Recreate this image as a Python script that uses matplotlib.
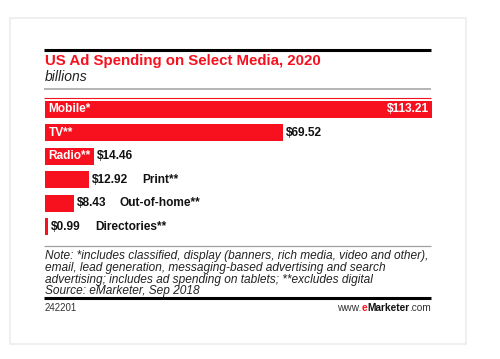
import matplotlib
matplotlib.use("Agg")
import matplotlib.pyplot as plt
from matplotlib.lines import Line2D
from matplotlib.patches import Rectangle

plt.rcParams['font.family'] = ['Liberation Sans', 'DejaVu Sans']

# data
categories = ["Mobile*", "TV**", "Radio**", "Print**", "Out-of-home**", "Directories**"]
values = [113.21, 69.52, 14.46, 12.92, 8.43, 0.99]
title = "US Ad Spending on Select Media, 2020"
subtitle = "billions"
note = ("Note: *includes classified, display (banners, rich media, video and other),\n"
        "email, lead generation, messaging-based advertising and search\n"
        "advertising; includes ad spending on tablets; **excludes digital\n"
        "Source: eMarketer, Sep 2018")
chart_id = "242201"

RED = "#f7101e"
W, H = 500, 359

fig = plt.figure(figsize=(5, 3.59), dpi=100)

def fx(x):
    return x / W

def fy(y):
    return 1 - y / H

def hline(y, x0, x1, color, lw):
    fig.add_artist(Line2D([fx(x0), fx(x1)], [fy(y), fy(y)], color=color, lw=lw,
                          transform=fig.transFigure, solid_capstyle='butt'))

# faint frame
fig.add_artist(Rectangle((fx(10), fy(344)), fx(456), 326 / H, transform=fig.transFigure,
                         fill=False, ec="#ececec", lw=1.2))

hline(50, 44, 431, "black", 2.2)
fig.text(fx(45), fy(61), title, color=RED, fontsize=10.8, fontweight='bold', va='center')
fig.text(fx(45), fy(77), subtitle, color="#222222", fontsize=10, style='italic', va='center')
hline(89, 44, 431, "#a0a0a0", 1.1)
hline(98, 44, 431, RED, 0.8)

# bars
top, slot = 97.5, 23.5
ax = fig.add_axes([fx(45), fy(top + slot * len(values)), fx(387), slot * len(values) / H])
ypos = list(range(len(values)))
ax.barh(ypos, values, height=0.74, color=RED)
ax.set_xlim(0, values[0])
ax.set_ylim(len(values) - 0.5, -0.5)
ax.axis('off')

fs = 8.6
for i, (cat, v) in enumerate(zip(categories, values)):
    lbl = "$%.2f" % v
    if v >= 14:
        ax.text(1, i, cat, color="white", fontsize=fs, fontweight='bold', va='center')
        if i == 0:
            ax.text(v - 1, i, lbl, color="white", fontsize=fs, fontweight='bold',
                    va='center', ha='right')
        else:
            ax.annotate(lbl, (v, i), xytext=(2, 0), textcoords='offset points',
                        fontsize=fs, fontweight='bold', va='center', color="#111111")
    else:
        t = ax.annotate(lbl, (v, i), xytext=(2, 0), textcoords='offset points',
                        fontsize=fs, fontweight='bold', va='center', color="#111111")
        ax.annotate(cat, xy=(1, 0.5), xycoords=t, xytext=(10, 0), textcoords='offset points',
                    fontsize=fs, fontweight='bold', va='center', color="#111111")

hline(246, 44, 431, "#a0a0a0", 0.9)
fig.text(fx(45), fy(250.5), note, fontsize=8.6, style='italic', color="#222222",
         va='top', linespacing=0.96)
hline(298, 44, 431, "black", 2.2)
fig.text(fx(45), fy(308), chart_id, fontsize=7, color="#333333", va='center')

# footer logo text, right aligned at the rule's end
parts = [("www.", "#333333", 'normal'), ("e", RED, 'bold'), ("Marketer", "#111111", 'bold'),
         (".com", "#333333", 'normal')]
fig.canvas.draw()
renderer = fig.canvas.get_renderer()
texts = []
for s, c, wgt in parts:
    texts.append(fig.text(0, fy(308), s, fontsize=7.3, color=c, fontweight=wgt, va='center'))
widths = [t.get_window_extent(renderer).width for t in texts]
x0 = 431 - sum(widths)
for t, w in zip(texts, widths):
    t.set_x(fx(x0))
    x0 += w

fig.savefig("out.png", dpi=100, facecolor="white")
